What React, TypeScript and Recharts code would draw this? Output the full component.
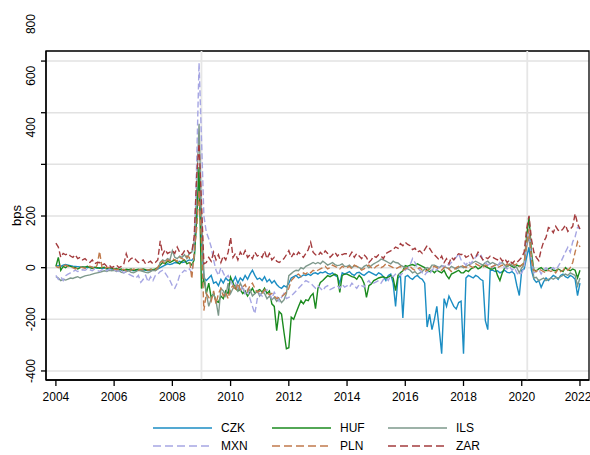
import { LineChart, Line, XAxis, YAxis, CartesianGrid, ReferenceLine, ReferenceArea } from "recharts";

// monthly spreads, Jan 2004 .. Jan 2022 (bps)
const czk = [
  5, 8, 5, 10, 12, 10, 8, 6, 5, 4, 3, 2,
  2, 0, 3, 2, 0, -2, 0, -3, -2, -5, -4, -5,
  -5, -8, -6, -10, -8, -10, -8, -10, -12, -10, -8, -10,
  -8, -10, -12, -10, -8, -10, -5, 0, 5, 10, 15, 12,
  15, 20, 18, 25, 20, 22, 25, 30, 28, 40, 180, 348,
  120, -40, -50, -40, -30, -60, -55, -70, -45, -60, -40, -50,
  -45, -55, -35, -60, -40, -50, -30, -45, -25, -10, -30, -45,
  -40, -50, -35, -55, -45, -60, -50, -65, -75, -80, -70, -75,
  -60, -40, -35, -30, -40, -35, -28, -30, -25, -30, -22, -20,
  -25, -18, -20, -15, -22, -25, -20, -30, -35, -60, -20, -25,
  -20, -15, -25, -30, -20, -18, -25, -30, -22, -15, -20, -25,
  -30, -20, -25, -35, -50, -30, -25, -60, -150, -40, -30, -195,
  -35, -30, -40, -45, -35, -30, -40, -45, -60, -230, -180, -240,
  -200, -150, -240, -333, -120, -150, -110, -130, -150, -160, -135, -130,
  -333, -40, -30, -35, -40, -30, -35, -45, -50, -205, -240, -10,
  -10, -15, -12, -20, -15, -10, -18, -20, -15, -25, -70, -108,
  -10, -5, 40, 79, -10, -45, -57, -50, -76, -55, -40, -50,
  -40, -30, -35, -45, -30, -25, -35, -40, -30, -35, -45, -108,
  -60,
];

const huf = [
  5, 40, -10, 5, 0, 8, 5, 2, 0, -5, 0, 3,
  2, 5, 0, -3, 2, 0, -2, 0, 2, -3, 0, -2,
  -5, -3, -8, -5, -10, -6, -8, -5, -10, -8, -6, -8,
  -5, -8, -10, -6, -8, -5, 0, 10, 20, 15, 25, 20,
  25, 30, 20, 15, 25, 30, 15, 20, 10, 30, 200, 390,
  -81, -40, -100, -60, -116, -100, -130, -134, -110, -120, -90, -100,
  -37, -60, -80, -90, -85, -100, -90, -110, -95, -80, -100, -90,
  -85, -95, -80, -100, -90, -140, -150, -244, -170, -180, -250, -314,
  -310, -192, -200, -175, -150, -128, -140, -125, -128, -110, -100, -159,
  -80, -57, -50, -40, -31, -35, -30, -25, -30, -96, -30, -25,
  -25, -30, -35, -37, -45, -30, -40, -60, -115, -70, -63, -50,
  -45, -40, -37, -35, -40, -37, -30, -40, -89, -30, -20, -12,
  8, 5, 10, 12, 8, 15, 10, 5, 0, -10, -15, -10,
  -20, -10, -15, -20, -10, -30, -43, -25, -20, -15, -10, -20,
  -20, -10, -15, -5, 0, 5, -5, 0, 10, 5, 0, -5,
  -5, 0, -30, -50, -20, 0, 5, 10, 5, 0, 10, 5,
  10, 15, 120, 195, 60, -10, -12, -5, 0, -8, -12, -5,
  0, -10, -12, -5, -10, -15, 0, -8, -12, -5, -10, -40,
  -10,
];

const ils = [
  -35, -40, -50, -45, -48, -44, -40, -42, -38, -35, -40, -36,
  -32, -30, -28, -25, -22, -20, -18, -15, -12, -15, -10, -12,
  -10, -15, -12, -18, -20, -15, -12, -18, -20, -15, -10, -12,
  -15, -18, -20, -15, -10, -12, -5, 20, 30, 25, 35, 30,
  66, 40, 35, 45, 40, 50, 35, 55, 60, 100, 300, 557,
  200, -20, -100, -150, -120, -100, -130, -186, -80, -90, -110, -60,
  -100, -80, -70, -90, -60, -80, -100, -95, -85, -110, -100, -90,
  -110, -95, -100, -120, -110, -125, -115, -130, -120, -135, -125, -100,
  -31, -23, -15, -10, -12, 0, -5, 5, 10, 15, 20, 15,
  20, 15, 25, 18, 10, 15, 20, 12, 8, 10, 15, 5,
  5, 10, 0, 8, 5, 0, -5, 5, 10, 0, 8, 15,
  20, 25, 33, 30, 25, 20, 15, 25, 20, 18, 10, 5,
  0, -5, -10, -20, -15, -25, -20, -15, -5, 0, -5, 10,
  10, 5, 0, 8, 5, 0, -5, 5, 0, -5, 0, 5,
  0, 5, 10, 15, 20, 25, 20, 15, 10, 20, 25, 15,
  20, 15, 10, 15, 20, 10, 5, 15, 10, 5, 0, -20,
  0, 10, 80, 124, 30, -40, -37, -50, -45, -40, -50, -45,
  -40, -45, -38, -40, -35, -30, -25, -30, -20, -25, -30, -70,
  -40,
];

const mxn = [
  -30, -45, -35, -50, -31, -25, -20, -15, -10, -15, -12, -8,
  -10, -5, -8, -12, -5, -10, -15, -8, -10, -12, -5, -10,
  -8, -12, -15, -10, -20, -15, -25, -30, -35, -40, -30, -57,
  -45, -30, -55, -35, -50, -30, -25, -15, -10, -20, -35, -50,
  -70, -80, -60, -30, -20, -10, -15, -5, -20, 50, 400, 793,
  500, 200, 137, 112, 80, 30, -10, -30, 0, -20, -40, -30,
  -50, -70, -60, -80, -90, -70, -100, -85, -120, -150, -178, -120,
  -100, -110, -90, -85, -100, -120, -95, -110, -130, -115, -100, -120,
  -115, -110, -100, -90, -80, -70, -60, -50, -55, -60, -70, -80,
  -70, -80, -89, -75, -70, -85, -80, -75, -70, -80, -65, -75,
  -70, -76, -60, -70, -80, -65, -70, -75, -60, -50, -65, -60,
  -55, -50, -60, -45, -40, -50, -30, -35, -25, -20, -30, -20,
  -10, 0, 10, 35, 20, 0, -10, -20, -30, -15, -25, -10,
  0, -10, 5, 10, 0, 15, 10, 20, 30, 40, 54, 30,
  20, 10, 25, 15, 30, 40, 50, 54, 30, 20, 10, 15,
  0, 10, 5, 20, 10, 0, -5, 5, -10, 0, -20, -30,
  -20, 0, 100, 150, 40, -20, -15, -5, -25, -10, 0, -10,
  -5, 0, -10, 5, 20, 40, 60, 79, 60, 100, 120, 156,
  150,
];

const pln = [
  5, 0, 8, 5, 10, 5, 2, 0, -5, 0, 3, 0,
  -2, 0, 5, 2, -5, 10, 63, 0, -5, 2, 0, -3,
  -5, -8, -5, -10, -6, -12, -8, -10, -5, -8, -10, -6,
  -8, -5, -10, -8, -5, -8, 0, 20, 25, 15, 30, 25,
  35, 30, 25, 40, 35, 30, 45, 40, -43, 60, 150, 300,
  100, -166, -100, -115, -130, -90, -140, -100, -80, -110, -95, -120,
  -80, -70, -90, -60, -85, -75, -65, -90, -70, -60, -80, -95,
  -90, -100, -85, -95, -105, -100, -110, -120, -115, -112, -105, -95,
  -80, -50, -40, -30, -25, -35, -20, -25, -15, -20, -10, -15,
  -10, -5, 0, 5, -5, 0, 10, 5, 0, -5, 5, 0,
  0, 5, -5, 10, 5, 0, -10, -5, 5, 10, 0, -5,
  5, 10, 0, 5, 15, 10, 5, 0, -5, 0, 5, -10,
  -5, 0, 5, -5, -10, -5, 0, -10, -15, -10, -5, 0,
  5, 0, -5, -10, 0, 5, -5, -15, -10, 0, 5, 10,
  5, 0, 10, 5, 0, 15, 10, 5, 0, 10, 5, 0,
  5, 10, 0, 5, 10, 5, 15, 10, 20, 10, 15, 5,
  10, 20, 90, 150, 30, -10, -15, -5, -10, -15, -20, -10,
  -15, -10, -20, -5, -15, -10, 0, -10, 0, 20, 60, 100,
  80,
];

const zar = [
  95, 80, 40, 55, 50, 54, 45, 40, 50, 35, 40, 30,
  35, 25, 20, 30, 15, 20, 20, 10, 15, 5, 10, 0,
  5, 10, 0, 5, 15, 54, 25, 35, 40, 30, 20, 25,
  30, 14, 20, 25, 15, 20, 30, 104, 50, 70, 55, 60,
  66, 55, 80, 60, 50, 65, 70, 55, 60, 120, 350, 480,
  250, 15, 20, 40, 25, 60, 30, 50, 20, 45, 30, 60,
  117, 40, 55, 30, 60, 45, 66, 40, 50, 35, 60, 45,
  50, 40, 65, 35, 55, 30, 40, 25, 20, 27, 35, 50,
  66, 40, 55, 45, 60, 50, 40, 55, 70, 98, 60, 50,
  45, 59, 50, 65, 55, 40, 50, 60, 45, 55, 50, 54,
  54, 45, 60, 40, 55, 45, 35, 50, 40, 20, 30, 45,
  40, 50, 45, 35, 55, 60, 65, 70, 80, 75, 93, 85,
  98, 90, 85, 70, 75, 60, 65, 55, 70, 85, 75, 60,
  50, 40, 30, 45, 20, 35, 15, 40, 30, 45, 54, 50,
  54, 40, 45, 55, 35, 40, 60, 45, 30, 40, 35, 45,
  40, 35, 30, 40, 25, 35, 20, 30, 16, 25, 20, 30,
  40, 60, 150, 201, 110, 60, 40, 27, 70, 100, 117, 155,
  150, 135, 160, 145, 140, 150, 165, 140, 150, 160, 209, 170,
  150,
];

const yearTicks = [2004, 2006, 2008, 2010, 2012, 2014, 2016, 2018, 2020, 2022];
const bpsTicks = [-400, -200, 0, 200, 400, 600, 800];
const eventLines = [2009, 2020.19];

const series = [
  { key: "CZK", color: "#1b8dc3", dash: undefined },
  { key: "HUF", color: "#1a8a1e", dash: undefined },
  { key: "ILS", color: "#7d988b", dash: undefined },
  { key: "MXN", color: "#a6a6e3", dash: "6 3" },
  { key: "PLN", color: "#c17a4c", dash: "6 3" },
  { key: "ZAR", color: "#a43c3e", dash: "6 3" },
];

const data = czk.map((v, i) => ({
  t: 2004 + i / 12,
  CZK: v,
  HUF: huf[i],
  ILS: ils[i],
  MXN: mxn[i],
  PLN: pln[i],
  ZAR: zar[i],
}));

const font = "'Liberation Sans', Arial, Helvetica, sans-serif";

const YTick = (props: any) => {
  const { x, y, payload } = props;
  // the upper labels sit higher than their ticks in the original
  const off = payload.value >= 400 ? -37 : 0;
  return (
    <text
      transform={`translate(${x - 8}, ${y + off}) rotate(-90)`}
      textAnchor="middle"
      dominantBaseline="central"
      fontSize={12}
      fontFamily={font}
      fill="#000"
    >
      {payload.value}
    </text>
  );
};

const legendCols = [153, 272, 388];

export default function App() {
  return (
    <div style={{ position: "absolute", left: 0, top: 0, width: 590, height: 455, background: "#fff" }}>
      <LineChart width={590} height={455} data={data} margin={{ top: 51, right: 1, bottom: 45, left: 0 }}>
        <CartesianGrid vertical={false} stroke="#e2e2e2" strokeWidth={1.5} />
        {eventLines.map((x) => (
          <ReferenceLine key={x} x={x} stroke="#e6e6e6" strokeWidth={1.8} />
        ))}
        <XAxis
          dataKey="t"
          type="number"
          domain={[2003.66, 2022.31]}
          ticks={yearTicks}
          allowDataOverflow
          height={30}
          tickSize={6}
          tickMargin={6}
          stroke="#000"
          strokeWidth={1.3}
          tick={{ fontSize: 12, fill: "#000", fontFamily: font }}
        />
        <YAxis
          type="number"
          domain={[-435, 839]}
          ticks={bpsTicks}
          allowDataOverflow
          width={46}
          tickSize={5}
          tickMargin={2}
          stroke="#000"
          strokeWidth={1.3}
          tick={<YTick />}
          label={{
            content: (p: any) => (
              <text
                transform={`translate(16, ${p.viewBox.y + p.viewBox.height / 2}) rotate(-90)`}
                textAnchor="middle"
                dominantBaseline="central"
                fontSize={13}
                fontFamily={font}
                fill="#000"
              >
                bps
              </text>
            ),
          }}
        />
        {series.map((s) => (
          <Line
            key={s.key}
            dataKey={s.key}
            type="linear"
            stroke={s.color}
            strokeWidth={1.4}
            strokeDasharray={s.dash}
            dot={false}
            isAnimationActive={false}
          />
        ))}
        <ReferenceArea x1={2003.66} x2={2022.31} y1={-435} y2={839} fill="none" stroke="#000" strokeWidth={1.3} />
      </LineChart>
      <svg width={590} height={455} style={{ position: "absolute", left: 0, top: 0, pointerEvents: "none" }}>
        {series.map((s, i) => {
          const x = legendCols[i % 3];
          const y = i < 3 ? 428 : 446;
          return (
            <g key={s.key}>
              <line x1={x} x2={x + 59} y1={y} y2={y} stroke={s.color} strokeWidth={1.3} strokeDasharray={s.dash ? "8 4" : undefined} />
              <text x={x + 68} y={y} dominantBaseline="central" fontSize={12} fontFamily={font} fill="#000">
                {s.key}
              </text>
            </g>
          );
        })}
      </svg>
    </div>
  );
}
